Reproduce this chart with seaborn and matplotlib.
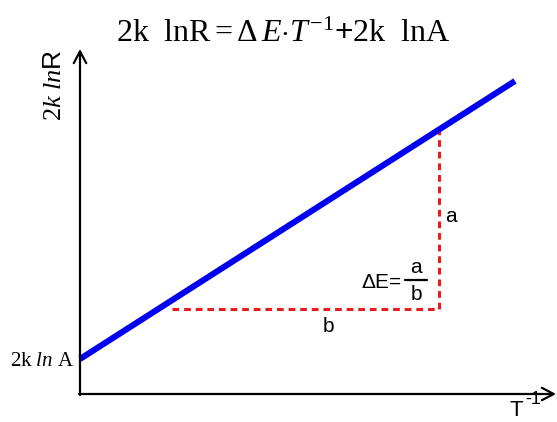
import matplotlib
matplotlib.use("Agg")
import matplotlib.pyplot as plt
import seaborn as sns
import pandas as pd

# ---- data (origin at the axes corner) ----
line_x = [0, 435]          # T^-1
line_y = [35, 313]         # 2k lnR
tri_x = [92, 359, 359]     # slope triangle (b then a)
tri_y = [85, 85, 264]

title_text = r"$\mathrm{2k\ \ lnR}{=}\Delta\,E{\cdot}T^{-1}$" + "+" + r"$\mathrm{2k\ \ lnA}$"
ylabel_text = r"$\mathit{2k\ ln}$R"
intercept_text = r"$\mathrm{2k}\ \mathit{ln}\ \mathrm{A}$"

sns.set_theme(style="white")
plt.rcParams["font.family"] = ["Liberation Sans", "DejaVu Sans"]
plt.rcParams["mathtext.fontset"] = "custom"
plt.rcParams["mathtext.rm"] = "Liberation Serif"
plt.rcParams["mathtext.it"] = "Liberation Serif:italic"
plt.rcParams["mathtext.bf"] = "Liberation Serif:bold"

fig = plt.figure(figsize=(5.57, 4.22), dpi=100)
ax = fig.add_axes([0, 0, 1, 1])
ax.set_axis_off()
ax.set_xlim(-80, 477)
ax.set_ylim(-28, 394)

df_line = pd.DataFrame({"x": line_x, "y": line_y})
df_tri = pd.DataFrame({"x": tri_x, "y": tri_y})

sns.lineplot(data=df_tri, x="x", y="y", sort=False, estimator=None, ax=ax,
             color="#e81c1c", linewidth=2.2, linestyle=(0, (2.2, 1.6)))
sns.lineplot(data=df_line, x="x", y="y", sort=False, estimator=None, ax=ax,
             color="#0000f0", linewidth=4.4, solid_capstyle="butt")

# axes with arrows
arrow = dict(arrowstyle="->,head_length=0.85,head_width=0.45", lw=1.6, color="black",
             shrinkA=0, shrinkB=0, mutation_scale=10)
ax.annotate("", xy=(0, 345), xytext=(0, -1), arrowprops=arrow)
ax.annotate("", xy=(476, 0), xytext=(-1, 0), arrowprops=arrow)

# texts
ax.text(203, 352, title_text, fontsize=23, ha="center", va="baseline", color="black")
ax.text(-26, 309, ylabel_text, fontsize=19, rotation=90, ha="center", va="center", color="black")
ax.text(-6, 34, intercept_text, fontsize=15, ha="right", va="center", color="black")
ax.text(371, 178, "a", fontsize=15, ha="center", va="center", color="black")
ax.text(248, 67, "b", fontsize=15, ha="center", va="center", color="black")
ax.text(322, 106, "ΔE=", fontsize=15, ha="right", va="baseline", color="black")
ax.plot([325, 347], [114, 114], color="black", lw=1.6)
ax.text(336, 121, "a", fontsize=15, ha="center", va="baseline", color="black")
ax.text(336, 94, "b", fontsize=15, ha="center", va="baseline", color="black")
ax.text(430, -27, "T", fontsize=16, ha="left", va="bottom", color="black")
ax.text(445, -10.5, "-1", fontsize=13, ha="left", va="baseline", color="black")

fig.savefig("out.png", dpi=100)
